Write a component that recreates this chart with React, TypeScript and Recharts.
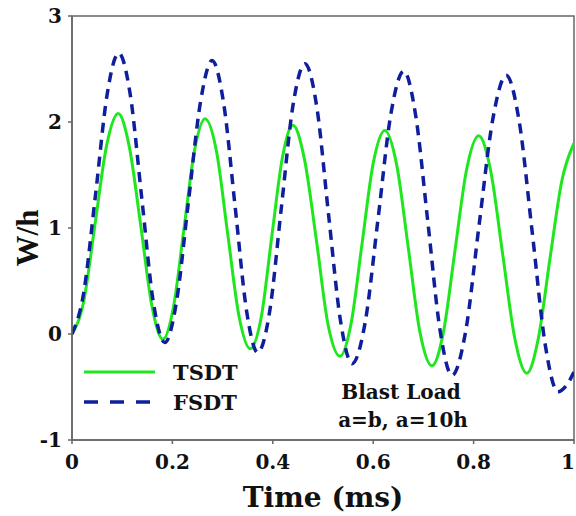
import { LineChart, Line, XAxis, YAxis, Legend, ReferenceArea, Label } from "recharts";

// values (peaks, troughs and the points between them)
const tsdtTime = [
  0, 0.023, 0.046, 0.069, 0.092, 0.114, 0.137, 0.159, 0.181, 0.202, 0.223, 0.244, 0.265, 0.288, 0.31, 0.333,
  0.355, 0.377, 0.398, 0.419, 0.44, 0.463, 0.487, 0.51, 0.534, 0.556, 0.578, 0.6, 0.623, 0.647, 0.67, 0.693,
  0.717, 0.74, 0.763, 0.786, 0.81, 0.834, 0.858, 0.882, 0.906, 0.929, 0.953, 0.976, 1.0,
];
const tsdtW = [
  0, 0.3, 1.04, 1.78, 2.08, 1.77, 1.02, 0.27, -0.05, 0.25, 0.99, 1.73, 2.03, 1.72, 0.95, 0.16,
  -0.14, 0.16, 0.92, 1.66, 1.97, 1.65, 0.88, 0.09, -0.21, 0.1, 0.86, 1.61, 1.92, 1.59, 0.81, 0.02,
  -0.3, 0.02, 0.79, 1.55, 1.87, 1.54, 0.75, -0.04, -0.37, -0.04, 0.74, 1.45, 1.8,
];

const fsdtTime = [
  0, 0.023, 0.047, 0.07, 0.093, 0.116, 0.139, 0.162, 0.185, 0.208, 0.232, 0.256, 0.279, 0.302, 0.325, 0.348,
  0.37, 0.394, 0.417, 0.44, 0.464, 0.488, 0.511, 0.535, 0.558, 0.584, 0.61, 0.635, 0.661, 0.685, 0.709, 0.733,
  0.757, 0.784, 0.811, 0.838, 0.865, 0.891, 0.917, 0.943, 0.968, 0.984, 1.0,
];
const fsdtW = [
  0, 0.38, 1.32, 2.26, 2.65, 2.26, 1.28, 0.3, -0.08, 0.3, 1.25, 2.19, 2.58, 2.18, 1.2, 0.21,
  -0.175, 0.22, 1.19, 2.15, 2.55, 2.13, 1.13, 0.12, -0.28, 0.11, 1.1, 2.07, 2.48, 2.05, 1.05, 0.04,
  -0.39, 0.02, 1.03, 2.02, 2.44, 2.0, 0.95, -0.11, -0.545, -0.49, -0.36,
];

const xTicks = [0, 0.2, 0.4, 0.6, 0.8, 1];
const yTicks = [-1, 0, 1, 2, 3];

const GREEN = "#1fe61f";
const BLUE = "#0f1f9c";
const SERIF = "'DejaVu Serif', serif";

const tsdt = tsdtTime.map((t, i) => ({ t, w: tsdtW[i] }));
const fsdt = fsdtTime.map((t, i) => ({ t, w: fsdtW[i] }));

const tickStyle = { fontFamily: SERIF, fontWeight: 700, fontSize: 20, fill: "#111" };

function XTick({ x, y, payload }: any) {
  // the last label sits on the right edge, nudge it in a little
  const dx = payload.value === 1 ? -4 : 0;
  return (
    <text x={x + dx} y={y} dy="0.71em" textAnchor="middle" style={tickStyle}>
      {String(payload.value)}
    </text>
  );
}

function LegendBox() {
  return (
    <svg width={180} height={60} style={{ display: "block" }}>
      <line x1={0} x2={71} y1={14} y2={14} stroke={GREEN} strokeWidth={3} />
      <text x={89} y={22} style={{ fontFamily: SERIF, fontWeight: 700, fontSize: 21 }} fill="#111">
        TSDT
      </text>
      <line x1={0} x2={71} y1={44} y2={44} stroke={BLUE} strokeWidth={3.5} strokeDasharray="14 12" />
      <text x={89} y={52} style={{ fontFamily: SERIF, fontWeight: 700, fontSize: 21 }} fill="#111">
        FSDT
      </text>
    </svg>
  );
}

export default function App() {
  return (
    <div style={{ position: "absolute", left: 0, top: 0, width: 576, height: 516, background: "#fff" }}>
      <LineChart width={576} height={516} margin={{ top: 16, right: 2, bottom: 0, left: 0 }}>
        <XAxis
          type="number"
          dataKey="t"
          domain={[0, 1]}
          ticks={xTicks}
          height={76}
          tick={<XTick />}
          tickSize={4}
          tickMargin={11}
          stroke="#666"
          strokeWidth={1.5}
          allowDataOverflow
        >
          <Label
            value="Time (ms)"
            position="insideBottom"
            offset={9}
            style={{ fontFamily: SERIF, fontWeight: 700, fontSize: 28, fill: "#111" }}
          />
        </XAxis>
        <YAxis
          type="number"
          domain={[-1, 3]}
          ticks={yTicks}
          width={72}
          tick={tickStyle}
          tickSize={4}
          tickMargin={6}
          stroke="#666"
          strokeWidth={1.5}
          allowDataOverflow
        />
        <ReferenceArea x1={0} x2={1} y1={-1} y2={3} fill="none" stroke="#666" strokeWidth={1.5} />
        <Legend
          layout="horizontal"
          verticalAlign="middle"
          align="center"
          wrapperStyle={{ left: 84, top: 358, width: 180 }}
          content={() => <LegendBox />}
        />
        <Line
          data={tsdt}
          dataKey="w"
          name="TSDT"
          type="monotone"
          stroke={GREEN}
          strokeWidth={3}
          dot={false}
          isAnimationActive={false}
        />
        <Line
          data={fsdt}
          dataKey="w"
          name="FSDT"
          type="monotone"
          stroke={BLUE}
          strokeWidth={3.5}
          strokeDasharray="10 7"
          dot={false}
          isAnimationActive={false}
        />
      </LineChart>
      <svg
        width={576}
        height={516}
        style={{ position: "absolute", left: 0, top: 0, pointerEvents: "none" }}
      >
        <text
          x={0}
          y={0}
          transform="translate(38 238) rotate(-90)"
          textAnchor="middle"
          style={{ fontFamily: "'Liberation Serif', serif", fontWeight: 700, fontSize: 31 }}
          fill="#111"
        >
          W/h
        </text>
        <text x={401} y={399} textAnchor="middle" style={{ fontFamily: SERIF, fontWeight: 700, fontSize: 20 }} fill="#111">
          Blast Load
        </text>
        <text x={403} y={427} textAnchor="middle" style={{ fontFamily: SERIF, fontWeight: 700, fontSize: 20 }} fill="#111">
          a=b, a=10h
        </text>
      </svg>
    </div>
  );
}
